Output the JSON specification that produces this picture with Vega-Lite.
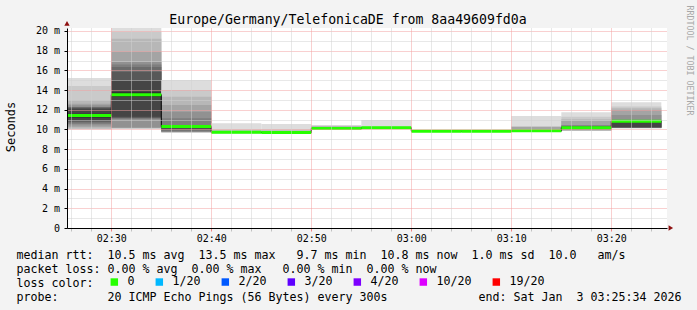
{
  "$schema": "https://vega.github.io/schema/vega-lite/v6.json",
  "width": 600,
  "height": 200,
  "autosize": {"type": "none"},
  "padding": {"left": 67, "top": 28, "right": 30, "bottom": 82},
  "background": "#f3f3f3",
  "config": {
    "view": {"fill": "#ffffff", "stroke": null},
    "axis": {"labelFont": "DejaVu Sans Mono", "titleFont": "DejaVu Sans Mono", "labelColor": "#000000", "titleColor": "#000000", "titleFontWeight": "normal"}
  },
  "datasets": {
    "smoke": [
      {"start": 145, "end": 150, "band": 1, "lo": 10.0, "hi": 15.23},
      {"start": 145, "end": 150, "band": 2, "lo": 10.04, "hi": 14.42},
      {"start": 145, "end": 150, "band": 3, "lo": 10.1, "hi": 12.96},
      {"start": 145, "end": 150, "band": 4, "lo": 10.25, "hi": 12.62},
      {"start": 145, "end": 150, "band": 5, "lo": 10.4, "hi": 12.45},
      {"start": 145, "end": 150, "band": 6, "lo": 10.55, "hi": 12.28},
      {"start": 145, "end": 150, "band": 7, "lo": 10.7, "hi": 12.25},
      {"start": 145, "end": 150, "band": 8, "lo": 10.8, "hi": 12.2},
      {"start": 145, "end": 150, "band": 9, "lo": 10.9, "hi": 12.1},
      {"start": 145, "end": 150, "band": 10, "lo": 11.2, "hi": 11.6},
      {"start": 150, "end": 155, "band": 1, "lo": 10.08, "hi": 20.4},
      {"start": 150, "end": 155, "band": 2, "lo": 10.1, "hi": 19.9},
      {"start": 150, "end": 155, "band": 3, "lo": 10.12, "hi": 19.2},
      {"start": 150, "end": 155, "band": 4, "lo": 10.15, "hi": 17.9},
      {"start": 150, "end": 155, "band": 5, "lo": 10.2, "hi": 16.85},
      {"start": 150, "end": 155, "band": 6, "lo": 11.1, "hi": 16.6},
      {"start": 150, "end": 155, "band": 7, "lo": 11.15, "hi": 16.35},
      {"start": 150, "end": 155, "band": 8, "lo": 11.2, "hi": 15.84},
      {"start": 150, "end": 155, "band": 9, "lo": 11.3, "hi": 15.0},
      {"start": 150, "end": 155, "band": 10, "lo": 13.3, "hi": 13.8},
      {"start": 155, "end": 160, "band": 1, "lo": 9.68, "hi": 15.03},
      {"start": 155, "end": 160, "band": 2, "lo": 9.7, "hi": 14.0},
      {"start": 155, "end": 160, "band": 3, "lo": 9.72, "hi": 13.33},
      {"start": 155, "end": 160, "band": 4, "lo": 9.75, "hi": 12.49},
      {"start": 155, "end": 160, "band": 5, "lo": 9.78, "hi": 11.8},
      {"start": 155, "end": 160, "band": 6, "lo": 9.8, "hi": 11.13},
      {"start": 155, "end": 160, "band": 7, "lo": 9.9, "hi": 10.46},
      {"start": 155, "end": 160, "band": 8, "lo": 10.0, "hi": 10.42},
      {"start": 155, "end": 160, "band": 9, "lo": 10.1, "hi": 10.38},
      {"start": 155, "end": 160, "band": 10, "lo": 10.2, "hi": 10.34},
      {"start": 160, "end": 165, "band": 1, "lo": 9.6, "hi": 10.63},
      {"start": 160, "end": 165, "band": 2, "lo": 9.62, "hi": 10.0},
      {"start": 160, "end": 165, "band": 4, "lo": 9.64, "hi": 9.88},
      {"start": 160, "end": 165, "band": 7, "lo": 9.66, "hi": 9.8},
      {"start": 160, "end": 165, "band": 9, "lo": 9.68, "hi": 9.76},
      {"start": 165, "end": 170, "band": 1, "lo": 9.6, "hi": 10.56},
      {"start": 165, "end": 170, "band": 2, "lo": 9.62, "hi": 10.0},
      {"start": 165, "end": 170, "band": 4, "lo": 9.64, "hi": 9.86},
      {"start": 165, "end": 170, "band": 7, "lo": 9.66, "hi": 9.78},
      {"start": 165, "end": 170, "band": 9, "lo": 9.68, "hi": 9.74},
      {"start": 170, "end": 175, "band": 1, "lo": 9.98, "hi": 10.46},
      {"start": 170, "end": 175, "band": 2, "lo": 9.99, "hi": 10.38},
      {"start": 170, "end": 175, "band": 4, "lo": 10.0, "hi": 10.3},
      {"start": 170, "end": 175, "band": 6, "lo": 10.02, "hi": 10.22},
      {"start": 170, "end": 175, "band": 9, "lo": 10.05, "hi": 10.15},
      {"start": 175, "end": 180, "band": 1, "lo": 10.05, "hi": 10.96},
      {"start": 175, "end": 180, "band": 2, "lo": 10.07, "hi": 10.3},
      {"start": 175, "end": 180, "band": 5, "lo": 10.1, "hi": 10.24},
      {"start": 175, "end": 180, "band": 9, "lo": 10.13, "hi": 10.21},
      {"start": 180, "end": 185, "band": 1, "lo": 9.76, "hi": 9.97},
      {"start": 180, "end": 185, "band": 3, "lo": 9.78, "hi": 9.9},
      {"start": 180, "end": 185, "band": 8, "lo": 9.8, "hi": 9.86},
      {"start": 185, "end": 190, "band": 1, "lo": 9.76, "hi": 9.96},
      {"start": 185, "end": 190, "band": 3, "lo": 9.78, "hi": 9.9},
      {"start": 185, "end": 190, "band": 8, "lo": 9.8, "hi": 9.86},
      {"start": 190, "end": 195, "band": 1, "lo": 9.76, "hi": 11.37},
      {"start": 190, "end": 195, "band": 2, "lo": 9.77, "hi": 10.3},
      {"start": 190, "end": 195, "band": 4, "lo": 9.78, "hi": 10.27},
      {"start": 190, "end": 195, "band": 5, "lo": 9.79, "hi": 10.0},
      {"start": 190, "end": 195, "band": 8, "lo": 9.8, "hi": 9.92},
      {"start": 195, "end": 200, "band": 1, "lo": 9.85, "hi": 11.74},
      {"start": 195, "end": 200, "band": 2, "lo": 9.87, "hi": 11.3},
      {"start": 195, "end": 200, "band": 3, "lo": 9.9, "hi": 11.05},
      {"start": 195, "end": 200, "band": 4, "lo": 9.93, "hi": 10.86},
      {"start": 195, "end": 200, "band": 5, "lo": 9.96, "hi": 10.46},
      {"start": 195, "end": 200, "band": 6, "lo": 10.0, "hi": 10.4},
      {"start": 195, "end": 200, "band": 7, "lo": 10.05, "hi": 10.34},
      {"start": 195, "end": 200, "band": 8, "lo": 10.1, "hi": 10.3},
      {"start": 195, "end": 200, "band": 9, "lo": 10.13, "hi": 10.25},
      {"start": 200, "end": 205, "band": 1, "lo": 10.12, "hi": 12.76},
      {"start": 200, "end": 205, "band": 2, "lo": 10.13, "hi": 12.32},
      {"start": 200, "end": 205, "band": 3, "lo": 10.14, "hi": 12.15},
      {"start": 200, "end": 205, "band": 4, "lo": 10.15, "hi": 11.98},
      {"start": 200, "end": 205, "band": 5, "lo": 10.16, "hi": 11.47},
      {"start": 200, "end": 205, "band": 6, "lo": 10.17, "hi": 10.96},
      {"start": 200, "end": 205, "band": 7, "lo": 10.18, "hi": 10.94},
      {"start": 200, "end": 205, "band": 8, "lo": 10.2, "hi": 10.92},
      {"start": 200, "end": 205, "band": 9, "lo": 10.25, "hi": 10.9},
      {"start": 200, "end": 205, "band": 10, "lo": 10.7, "hi": 10.88}
    ],
    "median": [
      {"start": 145, "end": 150, "median": 11.42, "loss": "0"},
      {"start": 150, "end": 155, "median": 13.53, "loss": "0"},
      {"start": 155, "end": 160, "median": 10.29, "loss": "0"},
      {"start": 160, "end": 165, "median": 9.72, "loss": "0"},
      {"start": 165, "end": 170, "median": 9.7, "loss": "0"},
      {"start": 170, "end": 175, "median": 10.1, "loss": "0"},
      {"start": 175, "end": 180, "median": 10.17, "loss": "0"},
      {"start": 180, "end": 185, "median": 9.83, "loss": "0"},
      {"start": 185, "end": 190, "median": 9.83, "loss": "0"},
      {"start": 190, "end": 195, "median": 9.86, "loss": "0"},
      {"start": 195, "end": 200, "median": 10.18, "loss": "0"},
      {"start": 200, "end": 205, "median": 10.83, "loss": "0"}
    ]
  },
  "resolve": {"axis": {"x": "independent", "y": "independent"}},
  "layer": [
    {
      "data": {"name": "smoke"},
      "mark": {"type": "rect", "clip": true},
      "encoding": {
        "x": {
          "field": "start", "type": "quantitative",
          "scale": {"domain": [145.5667, 205.5667], "nice": false, "zero": false},
          "axis": {
            "orient": "bottom",
            "values": [146, 148, 150, 152, 154, 156, 158, 160, 162, 164, 166, 168, 170, 172, 174, 176, 178, 180, 182, 184, 186, 188, 190, 192, 194, 196, 198, 200, 202, 204],
            "labelExpr": "datum.value % 10 == 0 ? '0' + floor(datum.value / 60) + ':' + (datum.value % 60 == 0 ? '00' : '' + (datum.value % 60)) : ''",
            "labelFontSize": 10, "labelPadding": 2, "labelOverlap": false, "labelFlush": false,
            "grid": true, "gridDash": [1, 1], "gridWidth": 1, "gridOpacity": 1,
            "gridColor": {"condition": {"test": "datum.value % 10 == 0", "value": "#f2a0a0"}, "value": "#d0d0d0"},
            "ticks": true, "tickSize": 3,
            "tickColor": {"condition": {"test": "datum.value % 10 == 0", "value": "#f08080"}, "value": "#c0c0c0"},
            "domain": true, "domainColor": "#000000", "domainWidth": 1,
            "title": [
              "median rtt:\u00a0\u00a010.5 ms avg\u00a0\u00a013.5 ms max\u00a0\u00a0\u00a09.7 ms min\u00a0\u00a010.8 ms now\u00a0\u00a01.0 ms sd\u00a0\u00a010.0\u00a0\u00a0\u00a0am/s",
              "packet loss:\u00a00.00 % avg\u00a0\u00a00.00 % max\u00a0\u00a0\u00a00.00 % min\u00a0\u00a00.00 % now",
              "loss color:",
              "probe:\u00a0\u00a0\u00a0\u00a0\u00a0\u00a0\u00a020 ICMP Echo Pings (56 Bytes) every 300s\u00a0\u00a0\u00a0\u00a0\u00a0\u00a0\u00a0\u00a0\u00a0\u00a0\u00a0\u00a0\u00a0end: Sat Jan\u00a0\u00a03 03:25:34 2026"
            ],
            "titleX": -51, "titleY": 30, "titleAlign": "left", "titleAnchor": "start", "titleBaseline": "alphabetic",
            "titleLineHeight": 14, "titleFontSize": 11.63, "titleFontWeight": "normal", "titleColor": "#000000", "titleFont": "DejaVu Sans Mono",
            "zindex": 2
          }
        },
        "x2": {"field": "end"},
        "y": {
          "field": "lo", "type": "quantitative",
          "scale": {"domain": [0, 20.3], "nice": false, "zero": false},
          "axis": {
            "orient": "left",
            "values": [0, 1, 2, 3, 4, 5, 6, 7, 8, 9, 10, 11, 12, 13, 14, 15, 16, 17, 18, 19, 20],
            "labelExpr": "datum.value % 2 == 0 ? (datum.value == 0 ? '0\u00a0\u00a0' : datum.value + ' m') : ''",
            "labelFontSize": 10, "labelPadding": 4.5, "labelOverlap": false, "labelFlush": false,
            "grid": true, "gridDash": [1, 1], "gridWidth": 1, "gridOpacity": 1,
            "gridColor": {"condition": {"test": "datum.value % 2 == 0", "value": "#f2a0a0"}, "value": "#d0d0d0"},
            "ticks": true, "tickSize": 3,
            "tickColor": {"condition": {"test": "datum.value % 2 == 0", "value": "#000000"}, "value": "rgba(0,0,0,0)"},
            "domain": true, "domainColor": "#000000", "domainWidth": 1,
            "title": "Seconds", "titleX": -56.5, "titleY": 98.5, "titleAngle": 270, "titleAlign": "center", "titleBaseline": "middle",
            "titleFontSize": 12, "titleFontWeight": "normal", "titleColor": "#000000", "titleFont": "DejaVu Sans Mono",
            "zindex": 1
          }
        },
        "y2": {"field": "hi"},
        "fill": {
          "field": "band", "type": "ordinal",
          "scale": {"domain": [1, 2, 3, 4, 5, 6, 7, 8, 9, 10], "range": ["#dddddd", "#cacaca", "#b7b7b7", "#a4a4a4", "#919191", "#7e7e7e", "#6b6b6b", "#585858", "#454545", "#323232"]},
          "legend": null
        }
      }
    },
    {
      "data": {"name": "median"},
      "mark": {"type": "line", "interpolate": "step-after", "clip": true, "color": "#000000", "strokeWidth": 1},
      "encoding": {
        "x": {"field": "start", "type": "quantitative", "scale": {"domain": [145.5667, 205.5667], "nice": false, "zero": false}, "axis": null},
        "y": {"field": "median", "type": "quantitative", "scale": {"domain": [0, 20.3], "nice": false, "zero": false}, "axis": null}
      }
    },
    {
      "data": {"name": "median"},
      "mark": {"type": "rule", "clip": true, "strokeWidth": 3},
      "encoding": {
        "x": {
          "field": "start", "type": "quantitative",
          "scale": {"domain": [145.5667, 205.5667], "nice": false, "zero": false},
          "axis": {
            "orient": "top", "labels": false, "ticks": false, "domain": false, "grid": false,
            "title": "Europe/Germany/TelefonicaDE from 8aa49609fd0a",
            "titleX": 280.5, "titleY": -4.4, "titleAlign": "center", "titleBaseline": "alphabetic",
            "titleFontSize": 13.2, "titleFont": "DejaVu Sans Mono", "titleFontWeight": "normal", "titleColor": "#000000"
          }
        },
        "x2": {"field": "end"},
        "y": {
          "field": "median", "type": "quantitative",
          "scale": {"domain": [0, 20.3], "nice": false, "zero": false},
          "axis": {
            "orient": "right", "labels": false, "ticks": false, "domain": false, "grid": false,
            "title": "RRDTOOL / TOBI OETIKER",
            "titleAngle": 90, "titleX": 21, "titleY": 32, "titleAlign": "center", "titleBaseline": "middle",
            "titleFontSize": 8.3, "titleFont": "DejaVu Sans Mono", "titleFontWeight": "normal", "titleColor": "#a8a8a8"
          }
        },
        "color": {
          "field": "loss", "type": "nominal",
          "scale": {"domain": ["0", "1/20", "2/20", "3/20", "4/20", "10/20", "19/20"], "range": ["#26ff00", "#00b8ff", "#0059ff", "#5e00ff", "#7e00ff", "#dd00ff", "#ff0000"]},
          "legend": {
            "orient": "none", "legendX": 41.5, "legendY": 248, "direction": "horizontal",
            "title": null,
            "labelFont": "DejaVu Sans Mono", "labelFontSize": 11.63, "labelColor": "#000000", "labelOffset": 7.3,
            "symbolType": "square", "symbolSize": 12, "symbolStrokeWidth": 4, "symbolOpacity": 1,
            "columnPadding": 15, "padding": 0, "symbolOffset": 0
          }
        }
      }
    },
    {
      "data": {"values": [{}]},
      "mark": {"type": "point", "shape": "triangle-up", "filled": true, "size": 28, "color": "#8e1010", "opacity": 1},
      "encoding": {
        "x": {"datum": 145.5667, "type": "quantitative", "scale": {"domain": [145.5667, 205.5667], "nice": false, "zero": false}, "axis": null},
        "y": {"datum": 20.77, "type": "quantitative", "scale": {"domain": [0, 20.3], "nice": false, "zero": false}, "axis": null}
      }
    },
    {
      "data": {"values": [{}]},
      "mark": {"type": "point", "shape": "triangle-right", "filled": true, "size": 28, "color": "#8e1010", "opacity": 1},
      "encoding": {
        "x": {"datum": 205.95, "type": "quantitative", "scale": {"domain": [145.5667, 205.5667], "nice": false, "zero": false}, "axis": null},
        "y": {"datum": 0, "type": "quantitative", "scale": {"domain": [0, 20.3], "nice": false, "zero": false}, "axis": null}
      }
    }
  ]
}
